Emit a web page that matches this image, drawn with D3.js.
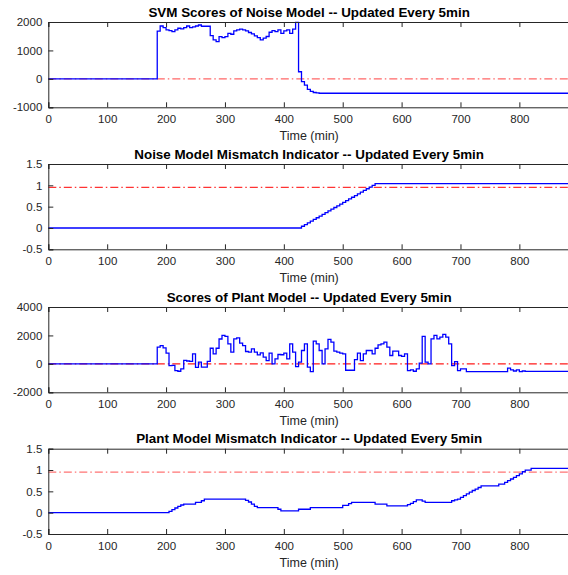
<!DOCTYPE html>
<html>
<head>
<meta charset="utf-8">
<script src="https://cdn.jsdelivr.net/npm/d3@7"></script>
<style>
  body { margin: 0; background: #fff; }
  svg { font-family: "Liberation Sans", Arial, sans-serif; }
  .tick text { fill: #262626; font-size: 11.5px; }
</style>
</head>
<body>
<div id="chart"></div>
<script>
// x axis (time in minutes)
const xTicks = [0, 100, 200, 300, 400, 500, 600, 700, 800]
const xMax = 886

// panel titles
const titles = [
  'SVM Scores of Noise Model -- Updated Every 5min',
  'Noise Model Mismatch Indicator -- Updated Every 5min',
  'Scores of Plant Model -- Updated Every 5min',
  'Plant Model Mismatch Indicator -- Updated Every 5min'
]

// y ticks per panel
const scoreTicksNoise = [-1000, 0, 1000, 2000]
const indicatorTicks = [-0.5, 0, 0.5, 1, 1.5]
const scoreTicksPlant = [-2000, 0, 2000, 4000]

// thresholds
const noiseScoreLimit = 0
const noiseIndicatorLimit = 0.95
const plantScoreLimit = 0
const plantIndicatorLimit = 0.95

// SVM scores of noise model (change points: time, value)
const noiseScoreTimes = [0, 185, 190, 195, 200, 205, 210, 215, 220, 225, 230, 235, 240, 245, 250, 255, 260,
  275, 280, 285, 290, 295, 300, 305, 310, 315, 320, 325, 330, 335, 340, 345, 350, 355, 360, 365, 370,
  375, 380, 385, 390, 395, 400, 405, 410, 415, 420, 425, 430, 435, 440, 445, 450, 455, 460, 886]
const noiseScores = [0, 1680, 1860, 1800, 1720, 1695, 1660, 1720, 1780, 1760, 1800, 1860, 1800, 1830, 1860, 1895, 1850,
  1520, 1370, 1310, 1485, 1450, 1485, 1600, 1570, 1685, 1720, 1750, 1720, 1690, 1630, 1580, 1510, 1450, 1370, 1430, 1490,
  1640, 1700, 1660, 1720, 1600, 1690, 1720, 1600, 1750, 1990, 250, -100, -220, -370, -440, -480, -495, -505, -505]

// noise model mismatch indicator
const noiseIndTimes = [0, 430, 435, 440, 445, 450, 455, 460, 465, 470, 475, 480, 485, 490, 495, 500, 505,
  510, 515, 520, 525, 530, 535, 540, 545, 550, 555, 886]
const noiseIndicator = [0, 0.04, 0.08, 0.12, 0.16, 0.20, 0.24, 0.28, 0.32, 0.36, 0.40, 0.44, 0.48, 0.52, 0.56, 0.60, 0.64,
  0.68, 0.72, 0.76, 0.80, 0.84, 0.88, 0.92, 0.96, 1.00, 1.04, 1.04]

// scores of plant model
const plantScoreTimes = [0, 185, 190, 195, 200, 205, 210, 215, 220, 225, 230, 235, 240, 245, 250, 255, 260, 265,
  270, 275, 280, 285, 290, 295, 300, 305, 310, 315, 320, 325, 330, 335, 340, 345, 350, 355, 360, 365, 370,
  375, 380, 385, 390, 395, 400, 405, 410, 415, 420, 425, 430, 435, 440, 445, 450, 455, 460, 465, 470, 475,
  480, 485, 490, 495, 500, 505, 520, 525, 530, 535, 540, 550, 555, 560, 565, 570, 575, 580, 585, 595, 600,
  605, 610, 615, 620, 625, 630, 635, 640, 645, 650, 655, 660, 665, 670, 675, 680, 685, 690, 695, 700, 710,
  780, 785, 790, 795, 800, 805, 810, 886]
const plantScores = [0, 1180, 1290, 1130, 750, -120, -100, -470, -520, -350, 250, 200, 170, 700, -240, 120, -230, -230,
  170, 1100, 700, 1100, 1750, 2000, 1930, 1410, 820, 1760, 1830, 1460, 1290, 870, 820, 1060, 820, 630, 780, 470, 230,
  750, 0, 350, 660, 640, 750, 350, 1410, 820, -190, 120, 940, 1410, -235, -540, 1600, 1410, 940, 0, 1060, 1720,
  1530, 890, 820, 750, 700, -450, 300, 750, 235, 700, 940, 700, 1100, 1340, 1410, 1530, 1180, 590, 890, 590, 520,
  700, -470, -420, -520, -350, 50, 1930, 120, 0, 1760, 2000, 1760, 1880, 2070, 1880, 1410, -120, 160, -470, -350, -540,
  -300, -420, -500, -420, -540, -500, -530, -530]

// plant model mismatch indicator
const plantIndTimes = [0, 205, 210, 215, 220, 225, 230, 250, 260, 265, 335, 340, 345, 350, 355, 390, 395, 425, 445,
  500, 510, 515, 555, 575, 610, 615, 620, 625, 635, 640, 685, 690, 695, 700, 705, 710, 715, 720, 725, 730, 735,
  765, 775, 780, 785, 790, 795, 800, 805, 810, 820, 886]
const plantIndicator = [0, 0.03, 0.07, 0.11, 0.15, 0.18, 0.20, 0.24, 0.28, 0.32, 0.29, 0.25, 0.20, 0.15, 0.12, 0.08, 0.04, 0.08, 0.12,
  0.17, 0.21, 0.24, 0.20, 0.16, 0.19, 0.22, 0.26, 0.30, 0.27, 0.24, 0.28, 0.30, 0.32, 0.36, 0.40, 0.44, 0.48, 0.52, 0.55, 0.59, 0.63,
  0.67, 0.71, 0.75, 0.79, 0.83, 0.87, 0.91, 0.96, 1.00, 1.04, 1.04]

const width = 568
const height = 575
const left = 48.3
const right = 570
const plotH = 85.3
const tops = [22, 164, 307, 448.7]

const panels = [
  { times: noiseScoreTimes, values: noiseScores, ticks: scoreTicksNoise, limit: noiseScoreLimit, limitOpacity: 0.6 },
  { times: noiseIndTimes, values: noiseIndicator, ticks: indicatorTicks, limit: noiseIndicatorLimit, limitOpacity: 0.8 },
  { times: plantScoreTimes, values: plantScores, ticks: scoreTicksPlant, limit: plantScoreLimit, limitOpacity: 0.9 },
  { times: plantIndTimes, values: plantIndicator, ticks: indicatorTicks, limit: plantIndicatorLimit, limitOpacity: 0.55 }
]

let svg = d3.select('#chart')
  .append('svg')
  .attr('width', width)
  .attr('height', height)

let xScale = d3.scaleLinear()
  .domain([0, xMax])
  .range([left, right])

//MATLAB-style labels: plain numbers with hyphen minus
let plain = function(d) { return String(d) }

panels.forEach(function(p, i) {
  let top = tops[i]
  let yScale = d3.scaleLinear()
    .domain([p.ticks[0], p.ticks[p.ticks.length - 1]])
    .range([top + plotH, top])

  let g = svg.append('g')

  // threshold (dash-dot)
  g.append('line')
    .attr('x1', xScale(0))
    .attr('x2', xScale(xMax))
    .attr('y1', yScale(p.limit))
    .attr('y2', yScale(p.limit))
    .attr('stroke', '#ff0000')
    .attr('stroke-opacity', p.limitOpacity)
    .attr('stroke-width', 1.2)
    .attr('stroke-dasharray', '8,3,1.5,3')

  // step series
  let line = d3.line()
    .x(function(d) { return xScale(d[0]) })
    .y(function(d) { return yScale(d[1]) })
    .curve(d3.curveStepAfter)

  g.append('path')
    .datum(p.times.map(function(t, k) { return [t, p.values[k]] }))
    .attr('fill', 'none')
    .attr('stroke', '#0000ff')
    .attr('stroke-width', 1.3)
    .attr('d', line)

  // axes: bottom, top, left (box)
  let xAxis = d3.axisBottom(xScale).tickValues(xTicks).tickSize(-5).tickPadding(8).tickFormat(plain)
  let xTop = d3.axisTop(xScale).tickValues(xTicks).tickSize(-5).tickFormat('')
  let yAxis = d3.axisLeft(yScale).tickValues(p.ticks).tickSize(-5).tickPadding(6).tickFormat(plain)

  let gx = g.append('g').attr('transform', 'translate(0,' + (top + plotH) + ')').call(xAxis)
  let gt = g.append('g').attr('transform', 'translate(0,' + top + ')').call(xTop)
  let gy = g.append('g').attr('transform', 'translate(' + left + ',0)').call(yAxis)

  ;[gx, gt, gy].forEach(function(a) {
    a.select('.domain').attr('stroke', '#262626').attr('stroke-width', 1)
    a.selectAll('.tick line').attr('stroke', '#262626').attr('stroke-width', 1)
  })

  // title
  svg.append('text')
    .attr('x', (left + right) / 2)
    .attr('y', top - 5.5)
    .attr('text-anchor', 'middle')
    .style('font-size', '13.4px')
    .style('font-weight', 'bold')
    .style('fill', '#000')
    .text(titles[i])

  // x label
  svg.append('text')
    .attr('x', (left + right) / 2)
    .attr('y', top + plotH + 33)
    .attr('text-anchor', 'middle')
    .style('font-size', '12.5px')
    .style('fill', '#262626')
    .text('Time (min)')
})
</script>
</body>
</html>
